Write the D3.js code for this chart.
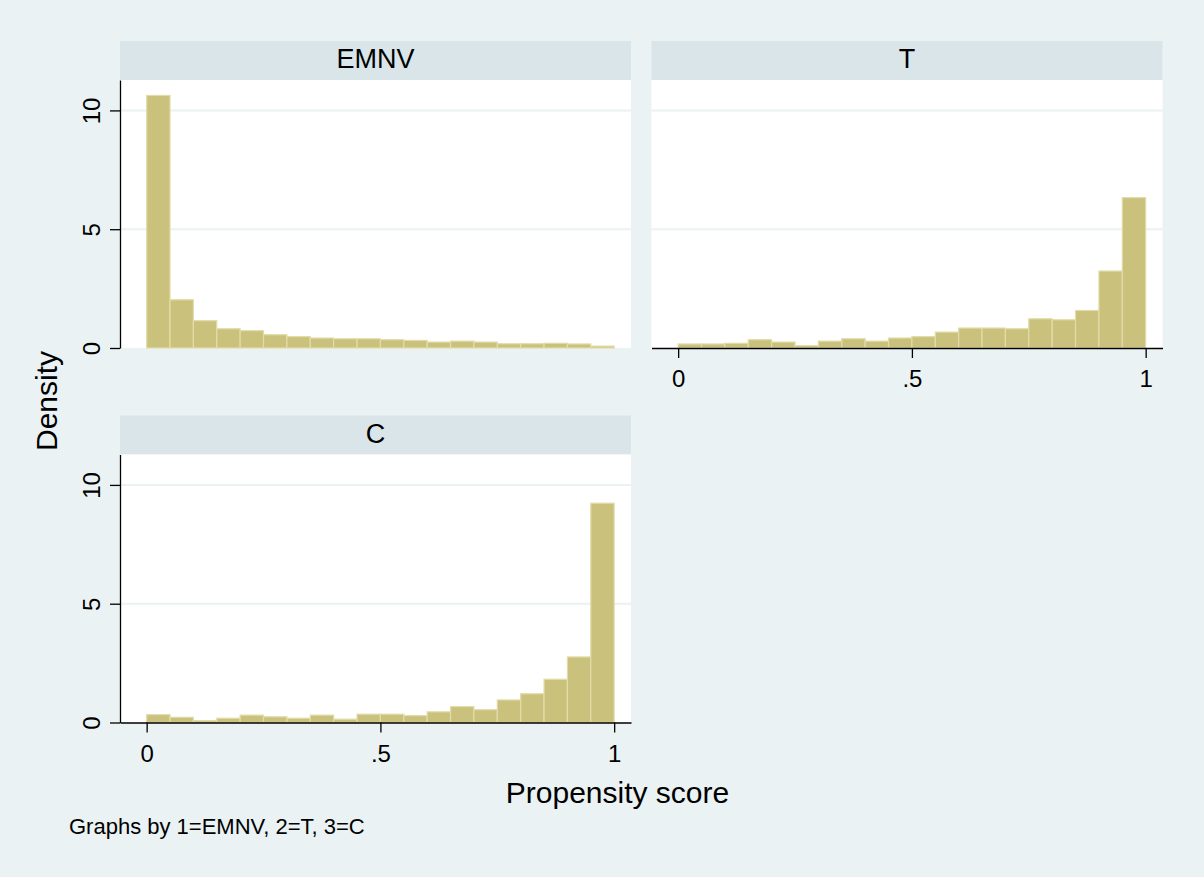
<!DOCTYPE html>
<html>
<head>
<meta charset="utf-8">
<script src="https://cdn.jsdelivr.net/npm/d3@7"></script>
<style>
  body { margin: 0; background: #eaf2f3; }
  svg { display: block; font-family: "Liberation Sans", Arial, sans-serif; }
</style>
</head>
<body>
<div id="chart"></div>
<script>
// bins of width .05 on [0, 1]
const binStarts = [0, 0.05, 0.10, 0.15, 0.20, 0.25, 0.30, 0.35, 0.40, 0.45,
  0.50, 0.55, 0.60, 0.65, 0.70, 0.75, 0.80, 0.85, 0.90, 0.95];
const binWidth = 0.05;

// density per bin
const emnvDensity = [10.63, 2.03, 1.15, 0.81, 0.73, 0.56, 0.48, 0.42, 0.39, 0.39,
  0.35, 0.32, 0.25, 0.29, 0.25, 0.18, 0.18, 0.20, 0.17, 0.08];
const tDensity = [0.17, 0.17, 0.20, 0.35, 0.25, 0.10, 0.29, 0.39, 0.29, 0.42,
  0.48, 0.67, 0.84, 0.84, 0.81, 1.23, 1.19, 1.58, 3.24, 6.33];
const cDensity = [0.33, 0.22, 0.08, 0.18, 0.31, 0.24, 0.18, 0.31, 0.14, 0.35,
  0.35, 0.29, 0.45, 0.67, 0.54, 0.95, 1.21, 1.82, 2.76, 9.23];

const panelNames = ["EMNV", "T", "C"];
const xTicks = [0, 0.5, 1];
const xTickLabels = ["0", ".5", "1"];
const yTicks = [0, 5, 10];

const W = 1204, H = 877;
const panelW = 511, panelH = 268, stripH = 39;
const panels = [
  { name: panelNames[0], values: emnvDensity, left: 120, top: 80, showX: false, showY: true },
  { name: panelNames[1], values: tDensity, left: 651.5, top: 80, showX: true, showY: false },
  { name: panelNames[2], values: cDensity, left: 120, top: 454.5, showX: true, showY: true }
];

const svg = d3.select("#chart").append("svg")
  .attr("width", W)
  .attr("height", H);

svg.append("rect").attr("width", W).attr("height", H).attr("fill", "#eaf2f3");

const x = d3.scaleLinear().domain([-0.057, 1.036]).range([0, panelW]);
const y = d3.scaleLinear().domain([0, 11.28]).range([panelH, 0]);

panels.forEach(p => {
  const g = svg.append("g").attr("transform", `translate(${p.left},${p.top})`);

  // strip with panel name
  g.append("rect")
    .attr("x", 0).attr("y", -stripH)
    .attr("width", panelW).attr("height", stripH)
    .attr("fill", "#d9e5e9");
  g.append("text")
    .attr("x", panelW / 2).attr("y", -stripH + 27)
    .attr("text-anchor", "middle")
    .style("font-size", "27px")
    .text(p.name);

  // plot region
  g.append("rect")
    .attr("width", panelW).attr("height", panelH)
    .attr("fill", "#ffffff");

  // grid lines
  g.selectAll(".grid")
    .data(yTicks.filter(d => d > 0))
    .enter()
    .append("line")
    .attr("x1", 0).attr("x2", panelW)
    .attr("y1", d => y(d)).attr("y2", d => y(d))
    .attr("stroke", "#eaf2f3")
    .attr("stroke-width", 2);

  // bars
  g.selectAll(".bar")
    .data(p.values)
    .enter()
    .append("rect")
    .attr("x", (d, i) => x(binStarts[i]))
    .attr("width", (d, i) => x(binStarts[i] + binWidth) - x(binStarts[i]))
    .attr("y", d => y(d))
    .attr("height", d => y(0) - y(d))
    .attr("fill", "#cac27c")
    .attr("stroke", "#e2dcaa")
    .attr("stroke-width", 1.2);

  if (p.showY) {
    const yAxis = g.append("g")
      .call(d3.axisLeft(y).tickValues(yTicks).tickSize(10).tickSizeOuter(0));
    yAxis.select(".domain").attr("stroke", "#000").attr("stroke-width", 1.3);
    yAxis.selectAll(".tick line").attr("stroke", "#000").attr("stroke-width", 1.3);
    yAxis.selectAll("text")
      .attr("x", 0).attr("dy", 0)
      .attr("transform", "translate(-20,0) rotate(-90)")
      .attr("text-anchor", "middle")
      .attr("fill", "#000")
      .style("font-size", "24px")
      .style("font-family", "'Liberation Sans', Arial, sans-serif");
  }

  if (p.showX) {
    const xAxis = g.append("g")
      .attr("transform", `translate(0,${panelH})`)
      .call(d3.axisBottom(x).tickValues(xTicks)
        .tickFormat((d, i) => xTickLabels[i])
        .tickSize(10).tickSizeOuter(0).tickPadding(12));
    xAxis.select(".domain").attr("stroke", "#000").attr("stroke-width", 1.3);
    xAxis.selectAll(".tick line").attr("stroke", "#000").attr("stroke-width", 1.3);
    xAxis.selectAll("text")
      .attr("fill", "#000")
      .style("font-size", "24px")
      .style("font-family", "'Liberation Sans', Arial, sans-serif");
  }
});

// axis titles and note
svg.append("text")
  .attr("x", 617.5).attr("y", 803)
  .attr("text-anchor", "middle")
  .style("font-size", "30px")
  .text("Propensity score");

svg.append("text")
  .attr("transform", "translate(57,401) rotate(-90)")
  .attr("text-anchor", "middle")
  .style("font-size", "30px")
  .text("Density");

svg.append("text")
  .attr("x", 69).attr("y", 834)
  .style("font-size", "22px")
  .text("Graphs by 1=EMNV, 2=T, 3=C");
</script>
</body>
</html>
